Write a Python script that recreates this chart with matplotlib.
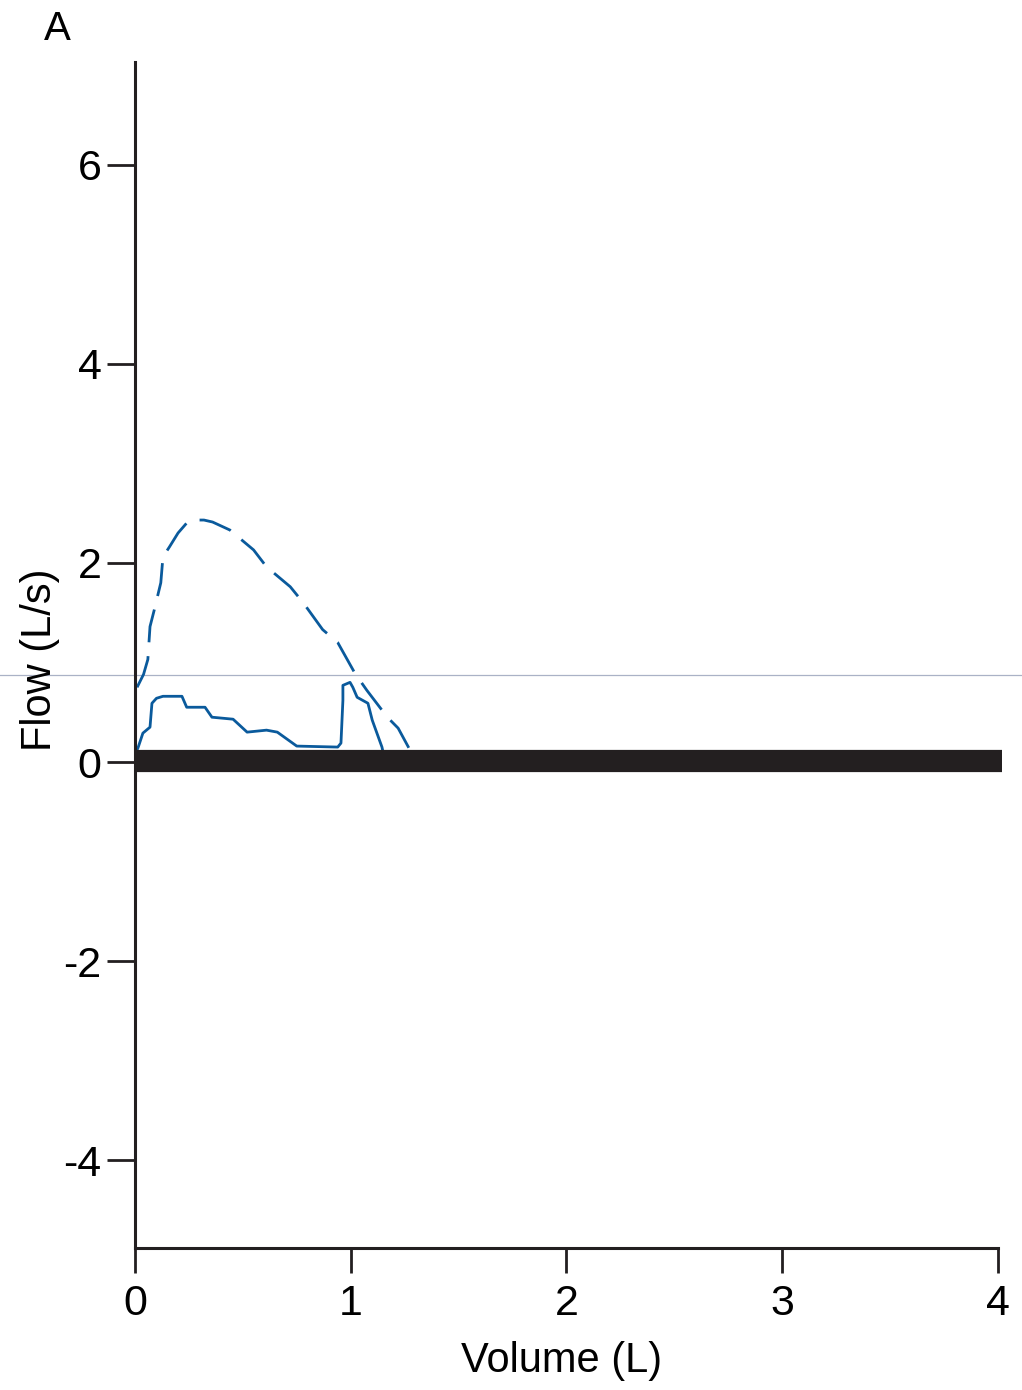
import matplotlib
matplotlib.use("Agg")
import matplotlib.pyplot as plt
from matplotlib import transforms

# flow-volume loop: predicted envelope (dashed) and measured tidal curve (solid)
vol_pred = [0.01, 0.04, 0.06, 0.07, 0.09, 0.12, 0.13, 0.16, 0.20, 0.24, 0.28, 0.32,
            0.36, 0.44, 0.55, 0.61, 0.72, 0.78, 0.87, 0.94, 1.02, 1.075, 1.17, 1.22, 1.275]
flow_pred = [0.75, 0.88, 1.03, 1.36, 1.53, 1.80, 2.06, 2.16, 2.30, 2.40, 2.43, 2.43,
             2.41, 2.33, 2.13, 1.96, 1.76, 1.60, 1.33, 1.20, 0.89, 0.72, 0.45, 0.34, 0.12]

vol_meas = [0.0, 0.014, 0.037, 0.07, 0.079, 0.10, 0.13, 0.218, 0.24, 0.325, 0.357, 0.455,
            0.52, 0.61, 0.66, 0.75, 0.94, 0.955, 0.964, 0.964, 0.997, 1.01, 1.03, 1.08,
            1.10, 1.145, 1.15]
flow_meas = [0.08, 0.14, 0.29, 0.35, 0.59, 0.64, 0.66, 0.66, 0.55, 0.55, 0.45, 0.43,
             0.30, 0.32, 0.30, 0.16, 0.15, 0.19, 0.62, 0.77, 0.80, 0.75, 0.65, 0.59,
             0.42, 0.15, 0.10]

# zero-flow baseline bar
base_vol = [0, 4.02]
base_flow = [0.01, 0.01]

xticks = [0, 1, 2, 3, 4]
yticks = [-4, -2, 0, 2, 4, 6]

blue = "#0a5a9c"
ink = "#231f20"
font = ["Liberation Sans", "DejaVu Sans"]

fig = plt.figure(figsize=(10.22, 13.9), dpi=100)
ax = fig.add_axes([0.132, 0.1022, 0.8445, 0.8532])

ax.plot(vol_pred, flow_pred, color=blue, lw=2.0, dashes=(12, 5))
ax.plot(vol_meas, flow_meas, color=blue, lw=2.0)
ax.plot(base_vol, base_flow, color=ink, lw=16, solid_capstyle="butt",
        clip_on=False, zorder=5)

ax.set_xlim(0, 4)
ax.set_ylim(-4.88, 7.03)
ax.set_xticks(xticks)
ax.set_yticks(yticks)
ax.set_xticklabels([str(t) for t in xticks], family=font, fontsize=31)
ax.set_yticklabels([str(t) for t in yticks], family=font, fontsize=31)

for side in ("top", "right"):
    ax.spines[side].set_visible(False)
for side in ("left", "bottom"):
    ax.spines[side].set_linewidth(2.2)
    ax.spines[side].set_color(ink)
ax.tick_params(axis="y", direction="out", length=20, width=2, color=ink, pad=4)
ax.tick_params(axis="x", direction="out", length=18, width=2, color=ink, pad=8)

ax.set_xlabel("Volume (L)", family=font, fontsize=30)
ax.set_ylabel("Flow (L/s)", family=font, fontsize=30)
ax.xaxis.set_label_coords(0.494, -0.095)
ax.yaxis.set_label_coords(-0.11, 0.496)
ax.yaxis.label.set_va("center")
ax.xaxis.label.set_va("center")

fig.text(0.056, 0.979, "A", family=font, fontsize=29, ha="center", va="center")

# faint horizontal rule running across the whole figure
tr = transforms.blended_transform_factory(fig.transFigure, ax.transData)
ax.plot([0, 1], [0.87, 0.87], color="#aab2c6", lw=0.9, transform=tr, clip_on=False, zorder=1)

fig.savefig("out.png", dpi=100)
